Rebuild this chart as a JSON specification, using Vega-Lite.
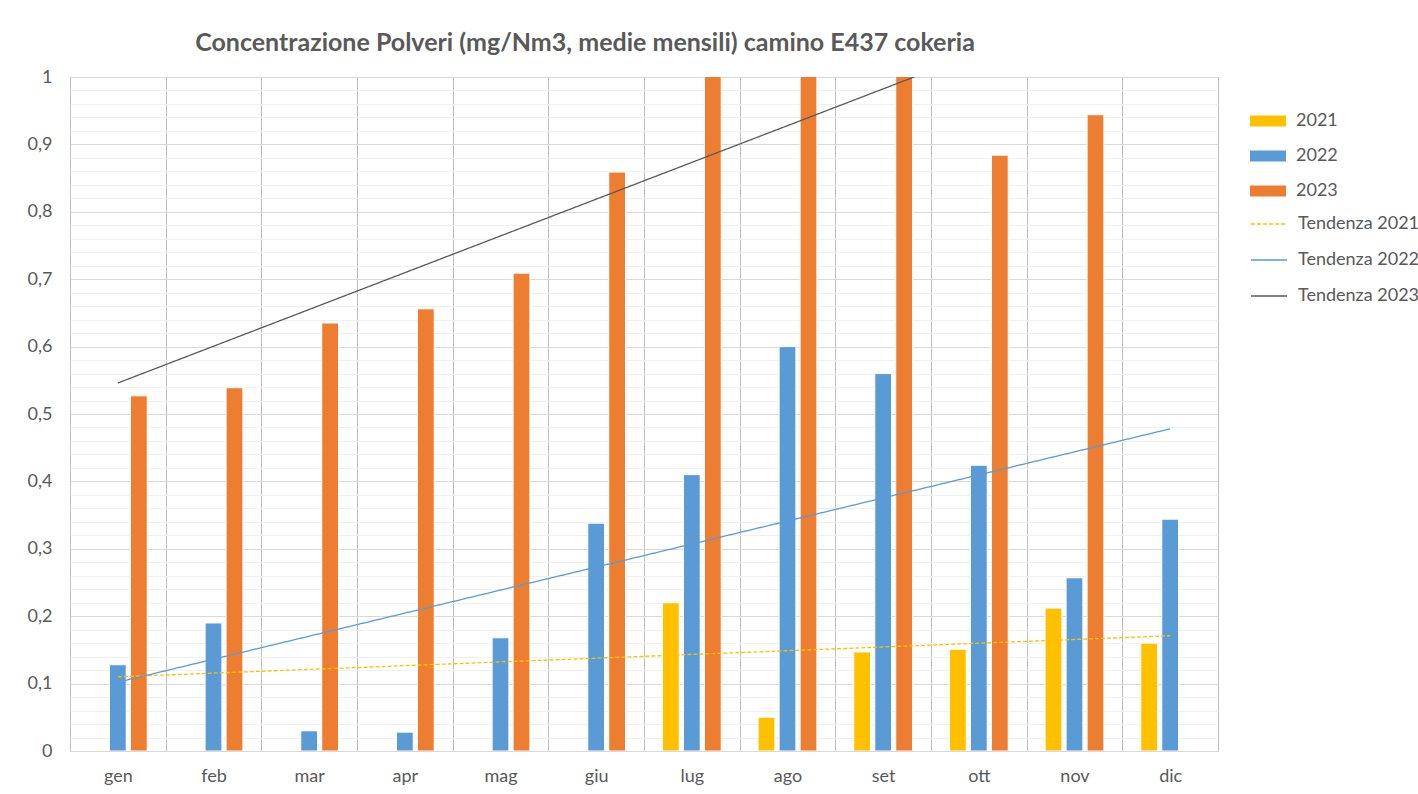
{
  "$schema": "https://vega.github.io/schema/vega-lite/v6.json",
  "width": 1148,
  "height": 674,
  "autosize": {"type": "none"},
  "padding": {"left": 70, "top": 77, "right": 200, "bottom": 43},
  "background": "white",
  "title": {
    "text": "Concentrazione Polveri (mg/Nm3, medie mensili) camino E437 cokeria",
    "font": "Lato",
    "fontSize": 25,
    "fontWeight": "bold",
    "color": "#595959",
    "anchor": "middle",
    "dx": -59,
    "offset": 12
  },
  "config": {
    "font": "Lato",
    "view": {"stroke": "#d9d9d9", "strokeWidth": 1}
  },
  "datasets": {
    "barre": [
      {"mese": "gen", "anno": "2022", "valore": 0.128},
      {"mese": "gen", "anno": "2023", "valore": 0.527},
      {"mese": "feb", "anno": "2022", "valore": 0.19},
      {"mese": "feb", "anno": "2023", "valore": 0.539},
      {"mese": "mar", "anno": "2022", "valore": 0.03},
      {"mese": "mar", "anno": "2023", "valore": 0.635},
      {"mese": "apr", "anno": "2022", "valore": 0.028},
      {"mese": "apr", "anno": "2023", "valore": 0.656},
      {"mese": "mag", "anno": "2022", "valore": 0.168},
      {"mese": "mag", "anno": "2023", "valore": 0.709},
      {"mese": "giu", "anno": "2022", "valore": 0.338},
      {"mese": "giu", "anno": "2023", "valore": 0.859},
      {"mese": "lug", "anno": "2021", "valore": 0.22},
      {"mese": "lug", "anno": "2022", "valore": 0.41},
      {"mese": "lug", "anno": "2023", "valore": 1.1},
      {"mese": "ago", "anno": "2021", "valore": 0.05},
      {"mese": "ago", "anno": "2022", "valore": 0.6},
      {"mese": "ago", "anno": "2023", "valore": 1.1},
      {"mese": "set", "anno": "2021", "valore": 0.147},
      {"mese": "set", "anno": "2022", "valore": 0.56},
      {"mese": "set", "anno": "2023", "valore": 1.1},
      {"mese": "ott", "anno": "2021", "valore": 0.151},
      {"mese": "ott", "anno": "2022", "valore": 0.424},
      {"mese": "ott", "anno": "2023", "valore": 0.884},
      {"mese": "nov", "anno": "2021", "valore": 0.212},
      {"mese": "nov", "anno": "2022", "valore": 0.257},
      {"mese": "nov", "anno": "2023", "valore": 0.944},
      {"mese": "dic", "anno": "2021", "valore": 0.16},
      {"mese": "dic", "anno": "2022", "valore": 0.344}
    ],
    "tendenze": [
      {"mese": "gen", "serie": "Tendenza 2021", "valore": 0.11},
      {"mese": "dic", "serie": "Tendenza 2021", "valore": 0.171},
      {"mese": "gen", "serie": "Tendenza 2022", "valore": 0.102},
      {"mese": "dic", "serie": "Tendenza 2022", "valore": 0.478},
      {"mese": "gen", "serie": "Tendenza 2023", "valore": 0.546},
      {"mese": "dic", "serie": "Tendenza 2023", "valore": 1.146}
    ]
  },
  "layer": [
    {
      "data": {"name": "barre"},
      "mark": {"type": "bar", "clip": true, "stroke": "white", "strokeWidth": 1},
      "encoding": {
        "x": {
          "field": "mese",
          "type": "nominal",
          "title": null,
          "scale": {
            "domain": ["gen", "feb", "mar", "apr", "mag", "giu", "lug", "ago", "set", "ott", "nov", "dic"],
            "paddingInner": 0,
            "paddingOuter": 0
          },
          "axis": {
            "labelAngle": 0,
            "labelFontSize": 18,
            "labelColor": "#595959",
            "labelPadding": 16,
            "ticks": false,
            "domain": false,
            "grid": true,
            "tickBand": "extent",
            "gridColor": "#bfbfbf",
            "gridWidth": 1
          }
        },
        "xOffset": {
          "field": "anno",
          "type": "nominal",
          "scale": {"domain": ["2021", "2022", "2023"], "paddingInner": 0.2, "paddingOuter": 0.878}
        },
        "y": {
          "field": "valore",
          "type": "quantitative",
          "title": null,
          "scale": {"domain": [0, 1], "nice": false, "zero": true},
          "axis": {
            "values": [0, 0.02, 0.04, 0.06, 0.08, 0.1, 0.12, 0.14, 0.16, 0.18, 0.2, 0.22, 0.24, 0.26, 0.28, 0.3, 0.32, 0.34, 0.36, 0.38, 0.4, 0.42, 0.44, 0.46, 0.48, 0.5, 0.52, 0.54, 0.56, 0.58, 0.6, 0.62, 0.64, 0.66, 0.68, 0.7, 0.72, 0.74, 0.76, 0.78, 0.8, 0.82, 0.84, 0.86, 0.88, 0.9, 0.92, 0.94, 0.96, 0.98, 1],
            "tickCount": 60,
            "labelExpr": "abs(datum.value * 10 - round(datum.value * 10)) < 0.001 ? replace(format(datum.value, '.1~f'), '.', ',') : ''",
            "labelOverlap": false,
            "labelFontSize": 18,
            "labelColor": "#595959",
            "labelPadding": 18,
            "ticks": false,
            "domain": false,
            "grid": true,
            "gridWidth": 1,
            "gridColor": {
              "condition": {"test": "abs(datum.value * 10 - round(datum.value * 10)) < 0.001", "value": "#d9d9d9"},
              "value": "#f0f0f0"
            }
          }
        },
        "fill": {
          "field": "anno",
          "type": "nominal",
          "scale": {"domain": ["2021", "2022", "2023"], "range": ["#FFC000", "#5B9BD5", "#ED7D31"]},
          "legend": {
            "title": null,
            "orient": "none",
            "legendX": 1180,
            "legendY": 26,
            "padding": 0,
            "symbolType": "M-1,-0.3H1V0.3H-1Z",
            "symbolSize": 1296,
            "symbolStrokeWidth": 0,
            "labelFontSize": 18,
            "labelColor": "#595959",
            "labelOffset": 10,
            "rowPadding": 8
          }
        }
      }
    },
    {
      "data": {"name": "tendenze"},
      "mark": {"type": "line", "clip": true, "strokeWidth": 1.3},
      "encoding": {
        "x": {"field": "mese", "type": "nominal"},
        "y": {"field": "valore", "type": "quantitative"},
        "stroke": {
          "field": "serie",
          "type": "nominal",
          "scale": {"domain": ["Tendenza 2021", "Tendenza 2022", "Tendenza 2023"], "range": ["#FFC000", "#5B9BD5", "#595959"]},
          "legend": {
            "title": null,
            "orient": "none",
            "legendX": 1180,
            "legendY": 128,
            "padding": 0,
            "symbolType": "stroke",
            "symbolSize": 1296,
            "symbolStrokeWidth": 1.5,
            "labelFontSize": 18,
            "labelColor": "#595959",
            "labelOffset": 10,
            "rowPadding": 8
          }
        },
        "strokeDash": {
          "field": "serie",
          "type": "nominal",
          "scale": {"domain": ["Tendenza 2021", "Tendenza 2022", "Tendenza 2023"], "range": [[4, 2], [1, 0], [1, 0]]},
          "legend": {
            "title": null,
            "orient": "none",
            "legendX": 1180,
            "legendY": 128,
            "padding": 0,
            "symbolType": "stroke",
            "symbolSize": 1296,
            "symbolStrokeWidth": 1.5,
            "labelFontSize": 18,
            "labelColor": "#595959",
            "labelOffset": 10,
            "rowPadding": 8
          }
        }
      }
    }
  ]
}
